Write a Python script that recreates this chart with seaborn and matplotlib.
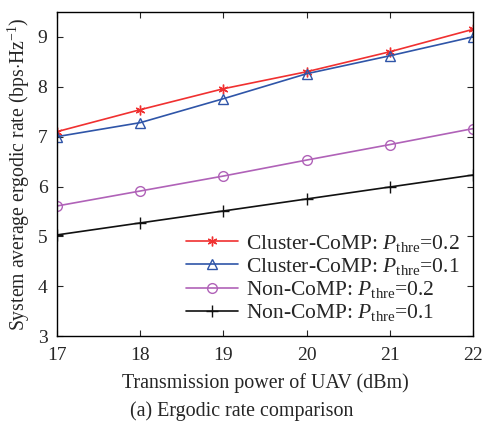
import matplotlib
matplotlib.use("Agg")
import matplotlib.pyplot as plt
import seaborn as sns
import pandas as pd

power = [17, 18, 19, 20, 21, 22]
cluster_02 = [7.10, 7.54, 7.96, 8.30, 8.70, 9.15]
cluster_01 = [7.00, 7.28, 7.76, 8.26, 8.62, 9.00]
non_02 = [5.61, 5.91, 6.21, 6.53, 6.84, 7.16]
non_01 = [5.03, 5.27, 5.51, 5.75, 5.99, 6.23]
labels = [r"Cluster-CoMP: $P_{\rm thre}$=0.2",
          r"Cluster-CoMP: $P_{\rm thre}$=0.1",
          r"Non-CoMP: $P_{\rm thre}$=0.2",
          r"Non-CoMP: $P_{\rm thre}$=0.1"]
series = [cluster_02, cluster_01, non_02, non_01]
colors = ["#f03030", "#2f55a8", "#b062b8", "#111111"]
markers = [(6, 2, 0), "^", "o", "+"]
msizes = [7, 7, 7, 8]

sns.set_style("ticks")
plt.rcParams["font.family"] = ["Liberation Serif", "DejaVu Serif"]
plt.rcParams["mathtext.fontset"] = "custom"
plt.rcParams["mathtext.rm"] = "Liberation Serif"
plt.rcParams["mathtext.it"] = "Liberation Serif:italic"

fig = plt.figure(figsize=(4.84, 4.25), dpi=100)
ax = fig.add_axes([0.118, 0.209, 0.859, 0.763])

for vals, lab, c, m, ms in zip(series, labels, colors, markers, msizes):
    df = pd.DataFrame({"x": power, "y": vals})
    mfc = "none" if m in ("^", "o") else c
    sns.lineplot(data=df, x="x", y="y", ax=ax, color=c, marker=m, label=lab,
                 markersize=ms, markerfacecolor=mfc,
                 markeredgecolor=c, markeredgewidth=1.0, linewidth=1.2)

ax.set_xlim(17, 22)
ax.set_ylim(3, 9.5)
ax.set_xticks(power)
ax.set_yticks([3, 4, 5, 6, 7, 8, 9])
ax.tick_params(direction="in", top=True, right=True, labelsize=14, length=4)
ax.tick_params(axis="x", pad=8)
ax.tick_params(axis="y", pad=7)
for s in ax.spines.values():
    s.set_linewidth(1.0)
    s.set_color("black")
ax.set_xlabel("Transmission power of UAV (dBm)", fontsize=14.4, labelpad=6)
ax.set_ylabel(r"System average ergodic rate (bps$\cdot$Hz$^{-1}$)", fontsize=14.2, labelpad=4)
ax.legend(loc="lower right", frameon=False, fontsize=15.5, handlelength=2.4,
          handletextpad=0.4, labelspacing=0.1, borderaxespad=0.2)
fig.text(0.5, 0.022, "(a) Ergodic rate comparison", ha="center", fontsize=14.4)
fig.savefig("out.png", dpi=100)
